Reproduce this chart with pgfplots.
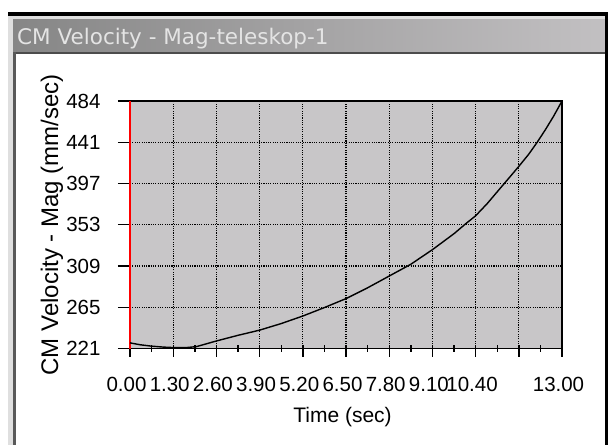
\documentclass[border=0pt]{standalone}
\usepackage{fontspec}
\setmainfont{Liberation Sans}
\newfontfamily\titlefont{DejaVu Sans}
\usepackage{pgfplots}
\pgfplotsset{compat=1.18}
\definecolor{plotbg}{RGB}{200,198,200}
\definecolor{tbleft}{RGB}{134,134,134}
\definecolor{tbright}{RGB}{194,192,194}
\definecolor{titletext}{RGB}{228,228,228}
\begin{document}
\begin{tikzpicture}
\path[use as bounding box] (0pt,0pt) rectangle (608pt,445pt);
\fill[white] (0pt,0pt) rectangle (608pt,445pt);
\shade[left color=tbleft, right color=tbright] (12pt,393pt) rectangle (605pt,429pt);
\fill[gray!25] (12pt,426pt) rectangle (605pt,429pt);
\fill[gray!60!black] (12pt,391pt) rectangle (605pt,393pt);
\fill[black] (8pt,429pt) rectangle (607pt,433pt);
\fill[black] (605pt,0pt) rectangle (608pt,433pt);
\fill[gray!25] (8pt,0pt) rectangle (13pt,429pt);
\fill[gray!70!black] (13pt,0pt) rectangle (16pt,393pt);
\node[anchor=base west, inner sep=0, text=titletext, font=\titlefont\fontsize{21.5}{24}\selectfont] at (17pt,400pt) {CM Velocity - Mag-teleskop-1};
\begin{axis}[
  at={(130pt,96.5pt)}, anchor=south west,
  scale only axis, width=432pt, height=247.5pt,
  xmin=0, xmax=13, ymin=221, ymax=484,
  clip=false,
  xtick={0,1.3,2.6,3.9,5.2,6.5,7.8,9.1,10.4,11.7,13},
  xticklabels={0.00,1.30,2.60,3.90,5.20,6.50,7.80,9.10,10.40,,13.00},
  ytick={221,264.8333,308.6667,352.5,396.3333,440.1667,484},
  yticklabels={221,265,309,353,397,441,484},
  minor x tick num=1, minor y tick num=1,
  tick pos=left,
  tick align=outside,
  major tick length=12pt, minor tick length=7pt,
  tick style={black, line width=1.4pt},
  every x tick/.append style={yshift=4pt},
  every minor y tick/.append style={xshift=3.5pt},
  grid=major,
  major grid style={black, line width=1.2pt, dash pattern=on 1.1pt off 1.2pt},
  axis background/.style={fill=plotbg},
  axis line style={black, line width=1.4pt},
  xticklabel style={font=\fontsize{20.5}{24}\selectfont, xshift=-3.5pt, yshift=-13pt},
  yticklabel style={font=\fontsize{20.5}{24}\selectfont, xshift=-14pt},
  xlabel={Time (sec)}, ylabel={CM Velocity - Mag (mm/sec)},
  xlabel style={font=\fontsize{21}{24}\selectfont, at={(axis description cs:0.4919,-0.2768)}, anchor=center, inner sep=0pt},
  ylabel style={font=\fontsize{24}{27}\selectfont, at={(axis description cs:-0.18056,0.5)}, anchor=center, inner sep=0pt},
]
\addplot[red, line width=1.6pt] coordinates {(0,221) (0,484)};
\addplot[black, line width=1.4pt] table {
t v
0 227
0.3 225
0.65 223.5
1.0 222.5
1.3 222
1.7 222
2.0 223
2.3 226
2.6 229
3.25 235
3.9 240.5
4.55 247.5
5.2 255.5
5.85 264.5
6.5 274
7.15 285.5
7.8 298
8.45 310.5
9.1 326
9.75 343
10.1 353.5
10.4 362
10.75 375
11.05 387.5
11.4 402
11.7 414.5
12.0 427.5
12.25 440
12.5 453.5
12.75 468
13.0 484
};
\end{axis}
\end{tikzpicture}
\end{document}
